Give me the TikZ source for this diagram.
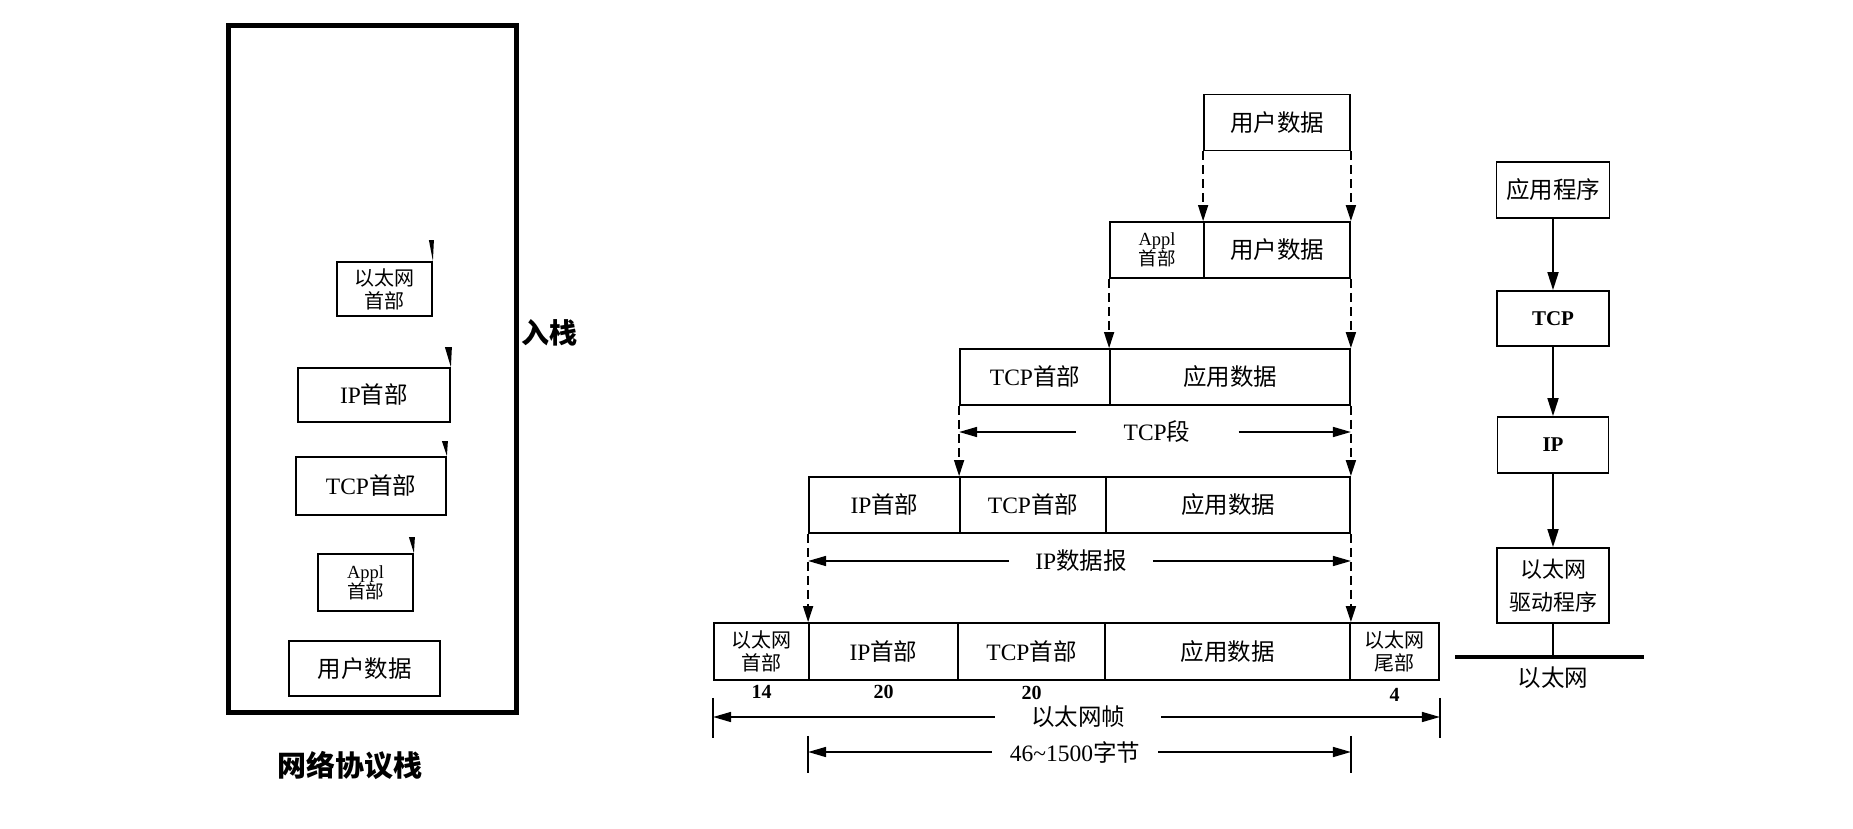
\documentclass[tikz,border=0pt]{standalone}
\usepackage{fontspec}
\setmainfont{Liberation Serif}
\newfontfamily\cjk{Noto Sans CJK SC}
\usetikzlibrary{arrows.meta,positioning,calc}
\newcommand{\setsz}[2]{\fontsize{#1}{#2}\selectfont}
\newcommand{\tm}[1]{{\rmfamily #1}}

\begin{document}
\begin{tikzpicture}[x=1pt,y=-1pt,
    cell/.style={draw, line width=1.8pt, minimum height=56pt, inner sep=0pt,
        align=center, font=\cjk\setsz{23.5}{27}},
    twoline/.style={font=\cjk\setsz{18.5}{20}},
    down/.style={-{Triangle[length=16pt,width=10pt]}, line width=1.6pt,
        dash pattern=on 9pt off 5pt},
    dim/.style={-{Triangle[length=18pt,width=10pt]}, line width=1.6pt},
    bar/.style={line width=1.6pt},
    flow/.style={-{Triangle[length=18pt,width=11pt]}, line width=1.8pt},
    lbl/.style={font=\cjk\setsz{23.5}{27}},
    num/.style={font=\rmfamily\bfseries\setsz{20}{22}},
    title/.style={font=\cjk\bfseries\setsz{29}{32}}]
    \useasboundingbox (0,0) rectangle (1853,829);

    % Protocol stack frame
    \draw[line width=5pt] (228.5,25.5) rectangle (516.5,712.5);
    \node[cell, minimum width=95pt, minimum height=54pt, font=\cjk\setsz{20}{23}] (leth) at (384.5,289) {以太网\\首部};
    \node[cell, minimum width=152pt, minimum height=54pt] (lip) at (374,395) {\tm{IP}首部};
    \node[cell, minimum width=150pt, minimum height=58pt] (ltcp) at (371,486) {\tm{TCP}首部};
    \node[cell, minimum width=95pt, minimum height=57pt, twoline] (lappl) at (365.5,582.5) {\tm{Appl}\\首部};
    \node[cell, minimum width=151pt, minimum height=55pt] (lusr) at (364.5,668.5) {用户数据};
    % small wedges on the corners
    \foreach \b/\w/\h in {leth/4/21, lip/6/20, ltcp/5/15, lappl/5/16}
        \fill (\b.north east) ++(-\w,-\h) -- ++(\w+1,0) -- ++(-1,\h) -- cycle;
    \node[title, font=\cjk\bfseries\setsz{28}{30}] (push) at (549,333) {入栈};
    \node[title] (stack) at (350,765) {网络协议栈};

    % Row 0
    \node[cell, minimum width=146pt] (u0) at (1277,122.5) {用户数据};
    % Row 1
    \node[cell, minimum width=94pt, twoline] (a1) at (1157,250) {\tm{Appl}\\首部};
    \node[cell, minimum width=146pt] (u1) at (1277,250) {用户数据};
    % Row 2
    \node[cell, minimum width=150pt] (t2) at (1035,377) {\tm{TCP}首部};
    \node[cell, minimum width=240pt] (d2) at (1230,377) {应用数据};
    % Row 3
    \node[cell, minimum width=151pt] (i3) at (884.5,505) {\tm{IP}首部};
    \node[cell, minimum width=146pt] (t3) at (1033,505) {\tm{TCP}首部};
    \node[cell, minimum width=244pt] (d3) at (1228,505) {应用数据};
    % Row 4
    \node[cell, minimum width=95pt, minimum height=57pt, font=\cjk\setsz{20}{23}] (e4) at (761.5,651.5) {以太网\\首部};
    \node[cell, minimum width=149pt, minimum height=57pt] (i4) at (883.5,651.5) {\tm{IP}首部};
    \node[cell, minimum width=147pt, minimum height=57pt] (t4) at (1031.5,651.5) {\tm{TCP}首部};
    \node[cell, minimum width=245pt, minimum height=57pt] (d4) at (1227.5,651.5) {应用数据};
    \node[cell, minimum width=89pt, minimum height=57pt, font=\cjk\setsz{20}{23}] (f4) at (1394.5,651.5) {以太网\\尾部};

    % Encapsulation arrows
    \draw[down] (u0.south west) -- (u1.north west);
    \draw[down] (u0.south east) -- (u1.north east);
    \draw[down] (a1.south west) -- (d2.north west);
    \draw[down] (u1.south east) -- (d2.north east);
    \draw[down] (t2.south west) -- (t3.north west);
    \draw[down] (d2.south east) -- (d3.north east);
    \draw[down] (i3.south west) -- (i4.north west);
    \draw[down] (d3.south east) -- (d4.north east);

    % Lengths
    \node[lbl, inner xsep=48pt] (seg) at (1157,432) {\tm{TCP}段};
    \draw[dim] (seg.west) -- (seg.west -| t2.south west);
    \draw[dim] (seg.east) -- (seg.east -| d2.south east);
    \node[lbl, inner xsep=26pt] (dgram) at (1081,561) {\tm{IP}数据报};
    \draw[dim] (dgram.west) -- (dgram.west -| i3.south west);
    \draw[dim] (dgram.east) -- (dgram.east -| d3.south east);

    \node[num] (n14) at ([yshift=-11pt]e4.south) {14};
    \node[num] (n20a) at ([yshift=-11pt]i4.south) {20};
    \node[num] (n20b) at ([yshift=-12pt]t4.south) {20};
    \node[num] (n4) at ([yshift=-14pt]f4.south) {4};

    \draw[bar] ([yshift=-17pt]e4.south west) -- ++(0,40);
    \draw[bar] ([yshift=-17pt]f4.south east) -- ++(0,40);
    \node[lbl, inner xsep=36pt] (frame) at (1078,717) {以太网帧};
    \draw[dim] (frame.west) -- (frame.west -| e4.south west);
    \draw[dim] (frame.east) -- (frame.east -| f4.south east);

    \draw[bar] ([yshift=-55pt]i4.south west) -- ++(0,37);
    \draw[bar] ([yshift=-55pt]d4.south east) -- ++(0,37);
    \node[lbl, inner xsep=18pt] (bytes) at (1075,752) {\tm{46\char`\~1500}字节};
    \draw[dim] (bytes.west) -- (bytes.west -| i4.south west);
    \draw[dim] (bytes.east) -- (bytes.east -| d4.south east);

    % Layers
    \node[cell, minimum width=113pt] (app) at (1553,190) {应用程序};
    \node[cell, minimum width=112pt, minimum height=55pt, font=\rmfamily\bfseries\setsz{21}{23}] (tcp) at (1553,318.5) {TCP};
    \node[cell, minimum width=111pt, font=\rmfamily\bfseries\setsz{21}{23}] (ip) at (1553,445) {IP};
    \node[cell, minimum width=112pt, minimum height=75pt, font=\cjk\setsz{22}{33}] (drv) at (1553,585.5) {以太网\\驱动程序};
    \draw[flow] (app) -- (tcp);
    \draw[flow] (tcp) -- (ip);
    \draw[flow] (ip) -- (drv);
    \coordinate (ethL) at (1455,657);
    \coordinate (ethR) at (1644,657);
    \draw[line width=4pt] (ethL) -- (ethR);
    \draw[line width=1.8pt] (drv.south) -- (drv.south |- ethL);
    \node[lbl] (ether) at (1553,678) {以太网};
\end{tikzpicture}
\end{document}
